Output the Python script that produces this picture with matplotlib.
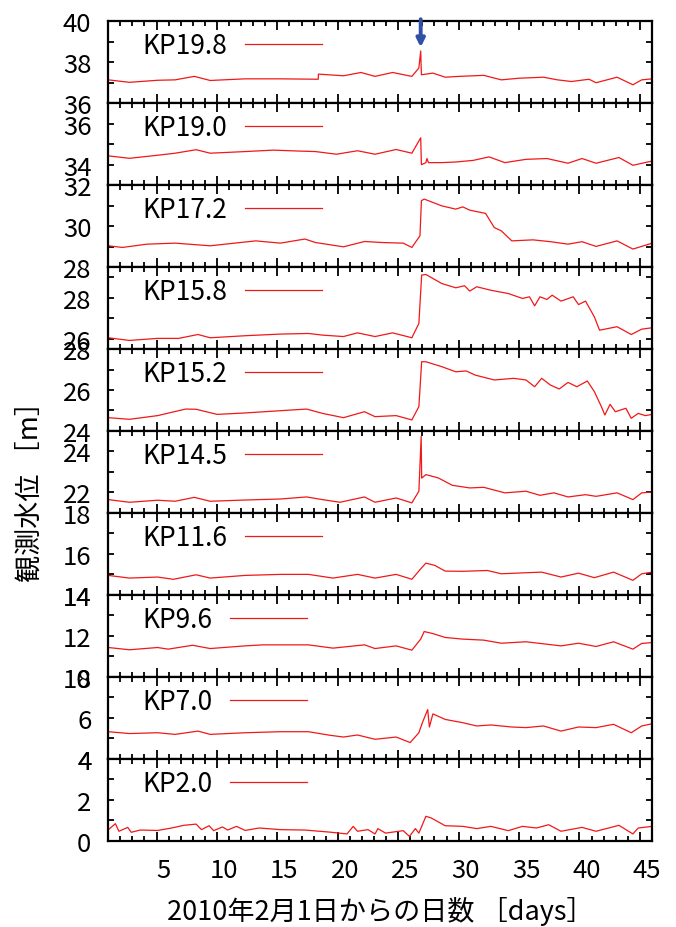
import matplotlib
matplotlib.use("Agg")
import matplotlib.pyplot as plt
from matplotlib.ticker import MultipleLocator
from matplotlib.transforms import ScaledTranslation

plt.rcParams['font.family'] = ['Noto Sans CJK JP', 'DejaVu Sans']

# water level records, day = days since 2010-02-01
kp198_day = [1.02, 2.76, 5.09, 6.54, 8.13, 9.44, 12.34, 15.25, 18.38, 18.40, 20.47, 21.92,
             23.08, 24.54, 26.13, 26.71, 26.86, 26.92, 27.87, 28.89, 30.05, 32.08, 33.53,
             35.0, 37.02, 38.18, 39.34, 40.79, 41.37, 43.11, 44.42, 45.15, 46.02]
kp198_level = [37.14, 37.02, 37.12, 37.14, 37.31, 37.11, 37.19, 37.19, 37.17, 37.42, 37.34, 37.5,
               37.31, 37.5, 37.31, 37.72, 38.55, 37.39, 37.47, 37.27, 37.31, 37.36, 37.14,
               37.22, 37.27, 37.14, 37.06, 37.17, 37.0, 37.27, 36.9, 37.14, 37.19]

kp190_day = [1.02, 2.76, 5.09, 6.54, 8.28, 9.44, 12.34, 14.67, 16.99, 18.15, 19.89, 21.63,
             23.08, 24.83, 26.13, 26.86, 26.92, 27.29, 27.38, 27.5, 28.6, 29.76, 31.21, 32.52,
             33.82, 35.57, 37.31, 39.05, 40.21, 41.37, 43.26, 44.42, 46.02]
kp190_level = [34.43, 34.31, 34.46, 34.56, 34.73, 34.56, 34.64, 34.71, 34.66, 34.64, 34.51, 34.68,
               34.51, 34.74, 34.56, 35.31, 34.0, 34.1, 34.3, 34.1, 34.1, 34.13, 34.21, 34.38,
               34.1, 34.26, 34.3, 34.07, 34.3, 34.07, 34.35, 33.97, 34.18]

kp172_day = [1.02, 2.18, 4.22, 6.54, 9.44, 11.47, 13.21, 15.25, 17.28, 18.15, 20.47, 22.21,
             23.66, 25.41, 26.13, 26.80, 26.92, 27.15, 28.6, 29.76, 30.34, 30.92, 32.23,
             32.95, 33.53, 34.4, 36.15, 37.6, 39.05, 40.21, 41.37, 43.11, 44.42, 46.02]
kp172_level = [29.04, 28.96, 29.12, 29.17, 29.04, 29.17, 29.28, 29.17, 29.37, 29.2, 28.99, 29.25,
               29.2, 29.17, 28.96, 29.53, 31.24, 31.32, 30.99, 30.83, 30.94, 30.78, 30.62,
               29.93, 29.77, 29.28, 29.33, 29.24, 29.12, 29.24, 29.01, 29.28, 28.88, 29.17]

kp158_day = [1.02, 2.76, 5.09, 6.83, 8.43, 9.44, 12.34, 15.25, 17.57, 18.73, 20.47, 21.63,
             23.08, 24.54, 26.13, 26.71, 26.94, 27.29, 28.6, 29.76, 30.49, 30.92, 31.5, 32.66,
             34.11, 35.28, 35.86, 36.29, 36.73, 37.31, 37.74, 38.47, 39.48, 39.92, 40.5,
             41.23, 41.66, 43.11, 44.28, 45.15, 46.02]
kp158_level = [26.05, 25.92, 26.02, 26.02, 26.21, 26.05, 26.15, 26.23, 26.26, 26.18, 26.11, 26.29,
               26.11, 26.29, 26.05, 26.75, 29.11, 29.14, 28.7, 28.49, 28.59, 28.33, 28.54, 28.37,
               28.21, 27.97, 28.05, 27.61, 28.05, 27.92, 28.13, 27.84, 28.05, 27.67, 27.84,
               27.07, 26.42, 26.59, 26.21, 26.47, 26.54]

kp152_day = [1.02, 2.76, 5.09, 7.41, 8.28, 10.02, 12.34, 15.25, 17.42, 18.73, 20.47, 22.21,
             23.08, 24.83, 26.13, 26.71, 26.94, 27.29, 28.6, 29.76, 30.63, 31.36, 32.95, 34.55,
             35.57, 36.29, 36.87, 37.6, 38.32, 39.05, 39.78, 40.65, 41.23, 41.81, 42.1, 42.53,
             42.97, 43.84, 44.28, 44.86, 45.44, 46.02]
kp152_level = [24.65, 24.57, 24.75, 25.07, 25.06, 24.81, 24.88, 24.99, 25.07, 24.86, 24.65, 24.94,
               24.7, 24.75, 24.54, 25.19, 27.38, 27.38, 27.14, 26.89, 26.93, 26.73, 26.49, 26.57,
               26.49, 26.16, 26.57, 26.24, 26.05, 26.37, 26.16, 26.44, 25.92, 25.19, 24.78, 25.3,
               24.94, 25.11, 24.62, 24.86, 24.75, 24.81]

kp145_day = [1.02, 2.76, 5.09, 6.54, 8.13, 9.44, 12.34, 15.25, 17.42, 18.73, 20.18, 22.21,
             23.08, 24.83, 26.13, 26.71, 26.90, 26.94, 27.29, 28.31, 29.47, 30.92, 32.08,
             33.82, 35.57, 36.73, 37.89, 39.05, 40.5, 41.37, 43.11, 44.42, 45.15, 46.02]
kp145_level = [21.65, 21.52, 21.62, 21.57, 21.76, 21.57, 21.63, 21.68, 21.78, 21.65, 21.52, 21.78,
               21.52, 21.73, 21.49, 22.06, 24.74, 22.7, 22.87, 22.71, 22.35, 22.22, 22.25,
               21.98, 22.06, 21.86, 21.98, 21.78, 21.89, 21.81, 21.98, 21.65, 21.98, 22.02]

kp116_day = [1.02, 2.76, 5.09, 6.39, 8.28, 9.44, 12.34, 15.25, 17.57, 19.6, 21.63, 23.08,
             24.83, 26.13, 26.86, 27.29, 28.02, 28.89, 30.34, 32.37, 33.53, 35.57, 36.87,
             38.47, 39.92, 41.23, 42.82, 44.42, 45.15, 46.02]
kp116_level = [14.95, 14.82, 14.87, 14.76, 14.98, 14.82, 14.95, 15.0, 15.0, 14.82, 15.0, 14.82,
               15.0, 14.76, 15.27, 15.55, 15.44, 15.16, 15.15, 15.19, 15.03, 15.08, 15.11,
               14.87, 15.06, 14.84, 15.11, 14.71, 15.03, 15.11]

kp96_day = [1.02, 2.76, 5.09, 5.96, 7.99, 9.44, 12.34, 13.8, 17.57, 19.6, 22.21, 23.08,
            24.83, 26.13, 26.86, 27.15, 27.87, 28.89, 30.34, 32.08, 33.53, 35.57, 36.73,
            38.47, 39.92, 41.37, 42.82, 44.42, 45.15, 46.02]
kp96_level = [11.43, 11.32, 11.43, 11.35, 11.54, 11.38, 11.51, 11.56, 11.56, 11.4, 11.56, 11.38,
              11.51, 11.3, 11.84, 12.21, 12.11, 11.92, 11.84, 11.79, 11.64, 11.71, 11.63,
              11.51, 11.64, 11.48, 11.71, 11.35, 11.63, 11.67]

kp70_day = [1.02, 2.76, 5.09, 6.54, 8.43, 9.44, 12.34, 15.25, 17.57, 19.31, 20.47, 21.63,
            23.08, 24.83, 25.99, 26.71, 27.0, 27.44, 27.58, 27.87, 28.89, 30.34, 31.5, 32.66,
            34.4, 35.57, 37.02, 38.47, 39.92, 41.37, 42.82, 44.28, 45.15, 46.02]
kp70_level = [5.32, 5.23, 5.27, 5.19, 5.35, 5.19, 5.27, 5.32, 5.32, 5.15, 5.06, 5.16,
              4.95, 5.06, 4.79, 5.27, 5.76, 6.4, 5.55, 6.19, 5.92, 5.76, 5.6, 5.65,
              5.55, 5.52, 5.6, 5.35, 5.55, 5.52, 5.68, 5.27, 5.6, 5.71]

kp20_day = [1.02, 1.60, 1.89, 2.62, 2.91, 3.64, 5.09, 6.25, 7.26, 8.28, 8.72, 9.35, 9.73,
            10.46, 10.89, 11.62, 12.34, 13.5, 15.25, 17.28, 19.31, 20.76, 21.28, 21.63,
            22.5, 23.08, 23.32, 23.95, 25.41, 25.93, 26.42, 26.71, 27.29, 27.73, 28.89,
            30.34, 31.5, 32.66, 34.11, 35.28, 36.44, 37.45, 38.47, 40.21, 41.37, 43.26,
            44.42, 44.86, 46.02]
kp20_level = [0.54, 0.83, 0.46, 0.65, 0.41, 0.52, 0.5, 0.62, 0.75, 0.81, 0.54, 0.73, 0.49,
              0.67, 0.52, 0.7, 0.5, 0.62, 0.54, 0.52, 0.42, 0.33, 0.7, 0.46,
              0.54, 0.33, 0.59, 0.37, 0.49, 0.21, 0.59, 0.37, 1.19, 1.11, 0.73,
              0.7, 0.59, 0.7, 0.49, 0.7, 0.62, 0.78, 0.46, 0.65, 0.46, 0.75,
              0.33, 0.62, 0.7]

station_names = ['KP19.8', 'KP19.0', 'KP17.2', 'KP15.8', 'KP15.2',
                 'KP14.5', 'KP11.6', 'KP9.6', 'KP7.0', 'KP2.0']
station_days = [kp198_day, kp190_day, kp172_day, kp158_day, kp152_day,
                kp145_day, kp116_day, kp96_day, kp70_day, kp20_day]
station_levels = [kp198_level, kp190_level, kp172_level, kp158_level, kp152_level,
                  kp145_level, kp116_level, kp96_level, kp70_level, kp20_level]
y_bottoms = [36, 33, 28, 25.5, 24, 21, 14, 10, 4, 0]

LINE_COLOR = '#f01818'


def main():
    fig = plt.figure(figsize=(6.76, 9.28), dpi=100)
    axes = fig.subplots(10, 1, sharex=True, gridspec_kw={'hspace': 0})
    fig.subplots_adjust(left=0.160, right=0.9645, top=0.976, bottom=0.093)

    for ax, name, days, levels, y0 in zip(axes, station_names, station_days,
                                          station_levels, y_bottoms):
        ax.plot(days, levels, color=LINE_COLOR, lw=0.9, label=name)
        ax.set_xlim(1, 46)
        ax.set_ylim(y0, y0 + 4)
        ax.xaxis.set_major_locator(MultipleLocator(5))
        ax.xaxis.set_minor_locator(MultipleLocator(1))
        ax.yaxis.set_major_locator(MultipleLocator(2))
        ax.yaxis.set_minor_locator(MultipleLocator(1))
        ax.tick_params(axis='both', which='both', direction='in', top=True, right=True,
                       width=1.3, color='black')
        ax.tick_params(axis='x', which='major', length=6.5)
        ax.tick_params(axis='x', which='minor', length=3.6)
        ax.tick_params(axis='y', which='both', length=4.5)
        ax.tick_params(axis='y', labelsize=18.5, pad=12)
        ax.tick_params(axis='x', labelsize=18.5, pad=12)
        for sp in ax.spines.values():
            sp.set_linewidth(1.6)
        ax.legend(loc='center left', bbox_to_anchor=(0.062, 0.70), frameon=False,
                  markerfirst=False, handlelength=2.9, handletextpad=0.7,
                  borderpad=0, borderaxespad=0, fontsize=19)

    # arrow pointing to the peak at KP19.8
    top = axes[0]
    peak = max(kp198_level)
    peak_day = kp198_day[kp198_level.index(peak)]
    top.annotate('', xy=(peak_day, peak + 0.18), xytext=(peak_day, 40.1),
                 arrowprops=dict(arrowstyle='-|>', color='#3050a8', lw=2.8,
                                 mutation_scale=12, shrinkA=0, shrinkB=0),
                 annotation_clip=False)

    shift = ScaledTranslation(7 / 100, 0, fig.dpi_scale_trans)
    for lbl in axes[-1].get_xticklabels():
        lbl.set_transform(lbl.get_transform() + shift)

    fig.text((108 + 652) / 2 / 676, 1 - 912 / 928, '2010年2月1日からの日数 ［days］',
             ha='center', va='center', fontsize=19.5)
    fig.text(30 / 676, 1 - 485 / 928, '観測水位 ［m］', rotation=90,
             ha='center', va='center', fontsize=19.5)

    fig.savefig('out.png', dpi=100)


if __name__ == '__main__':
    main()
